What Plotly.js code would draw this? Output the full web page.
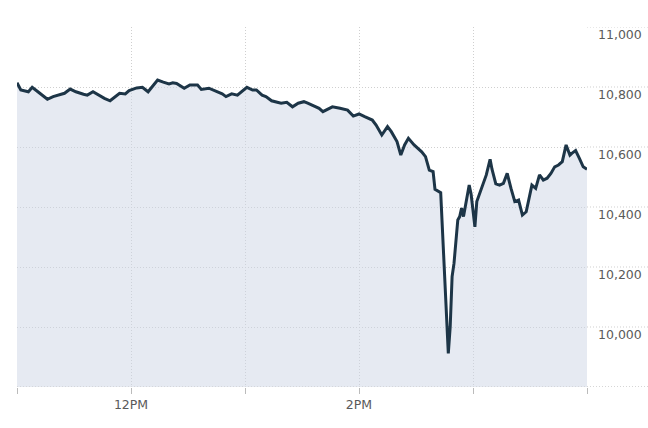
<!DOCTYPE html>
<html>
<head>
<meta charset="utf-8">
<script src="https://cdn.plot.ly/plotly-3.0.1.min.js"></script>
<style>html,body{margin:0;padding:0;background:#fff;}#chart{width:648px;height:428px;}</style>
</head>
<body>
<div id="chart"></div>
<script>
// Dow Jones Industrial Average, intraday (May 6, 2010)
const times = [
 "11:00","11:02","11:06","11:08","11:11","11:16","11:19","11:23","11:25","11:28",
 "11:31","11:35","11:37","11:40","11:43","11:46","11:49","11:52","11:54","11:57",
 "11:59","12:03","12:06","12:09","12:12","12:14","12:17","12:20","12:22","12:24",
 "12:28","12:31","12:35","12:37","12:41","12:44","12:48","12:50","12:53","12:56",
 "12:58","13:01","13:04","13:06","13:09","13:11","13:14","13:17","13:19","13:22",
 "13:25","13:28","13:31","13:33","13:36","13:39","13:41","13:46","13:50","13:54",
 "13:57","14:00","14:03","14:07","14:09","14:12","14:15","14:17","14:20","14:22",
 "14:24","14:26","14:29","14:33","14:35","14:37","14:39","14:40","14:43","14:44",
 "14:46","14:47","14:48","14:49","14:50","14:52","14:53","14:54","14:55","14:58",
 "14:59","15:01","15:02","15:04","15:06","15:07","15:09","15:10","15:12","15:14",
 "15:16","15:18","15:20","15:22","15:24","15:26","15:28","15:30","15:31","15:33",
 "15:35","15:37","15:39","15:41","15:43","15:45","15:47","15:49","15:51","15:52",
 "15:54","15:56","15:58","16:00"
];
const dow = [
 10814,10790,10784,10799,10784,10759,10768,10777,10779,10793,
 10784,10776,10773,10784,10773,10762,10754,10768,10779,10777,
 10788,10797,10799,10784,10807,10823,10816,10810,10814,10812,
 10796,10807,10807,10792,10796,10788,10777,10768,10777,10773,
 10784,10799,10790,10790,10773,10768,10754,10748,10746,10749,
 10734,10746,10751,10746,10737,10729,10718,10734,10729,10723,
 10703,10710,10701,10690,10673,10640,10668,10651,10618,10573,
 10607,10629,10607,10584,10568,10523,10518,10459,10448,10312,
 10090,9912,10001,10168,10212,10357,10368,10396,10368,10473,
 10443,10334,10418,10451,10490,10507,10559,10526,10477,10473,
 10479,10512,10462,10418,10423,10373,10384,10446,10473,10462,
 10507,10490,10496,10512,10534,10540,10551,10607,10573,10579,
 10588,10562,10534,10526
];
const hourTicks = ["11:00","12:00","13:00","14:00","15:00","16:00"];
const hourLabels = ["","12PM","","2PM","",""];
const yTicks = [10000,10200,10400,10600,10800,11000];
const gridLevels = [9800,10000,10200,10400,10600,10800,11000];

const day = "2010-05-06 ";
const x = times.map(t => day + t);
const dotted = "1px,2px";

const shapes = gridLevels.map(v => ({
  type: "line", xref: "paper", yref: "y", x0: 1, x1: 1.2, y0: v, y1: v,
  line: {color: "#cfcfcf", width: 1, dash: dotted}, layer: "below"
}));
shapes.push({
  type: "line", xref: "paper", yref: "y", x0: 0, x1: 1.2, y0: 9800, y1: 9800,
  line: {color: "#c4c4c4", width: 1, dash: dotted}, layer: "above"
});

const trace = {
  x: x, y: dow, type: "scatter", mode: "lines",
  line: {color: "#1d3547", width: 3, shape: "linear"},
  fill: "tozeroy", fillcolor: "rgba(205,213,229,0.5)",
  hoverinfo: "skip"
};

const font = "'DejaVu Sans', Verdana, sans-serif";
const layout = {
  width: 648, height: 428,
  margin: {l: 17, r: 61, t: 27, b: 41},
  paper_bgcolor: "#ffffff", plot_bgcolor: "#ffffff",
  showlegend: false,
  font: {family: font, color: "#555"},
  xaxis: {
    type: "date",
    range: [day + "11:00", day + "16:00"],
    tickvals: hourTicks.map(t => day + t),
    ticktext: hourLabels,
    ticks: "outside", ticklen: 6, tickcolor: "#bbb", tickwidth: 1,
    showgrid: true, gridcolor: "#cfcfcf", griddash: dotted, gridwidth: 1,
    zeroline: false, showline: false,
    tickfont: {family: font, size: 12.5, color: "#5a5a5a"},
    fixedrange: true
  },
  yaxis: {
    side: "right",
    range: [9800, 11000],
    tickvals: yTicks,
    tickformat: ",d",
    ticks: "", ticklabelshift: 8, ticklabelstandoff: 10,
    showgrid: true, gridcolor: "#cfcfcf", griddash: dotted, gridwidth: 1,
    zeroline: false, showline: false,
    tickfont: {family: font, size: 12.5, color: "#5a5a5a"},
    fixedrange: true
  },
  shapes: shapes
};

Plotly.newPlot("chart", [trace], layout, {staticPlot: true, displayModeBar: false});
</script>
</body>
</html>
